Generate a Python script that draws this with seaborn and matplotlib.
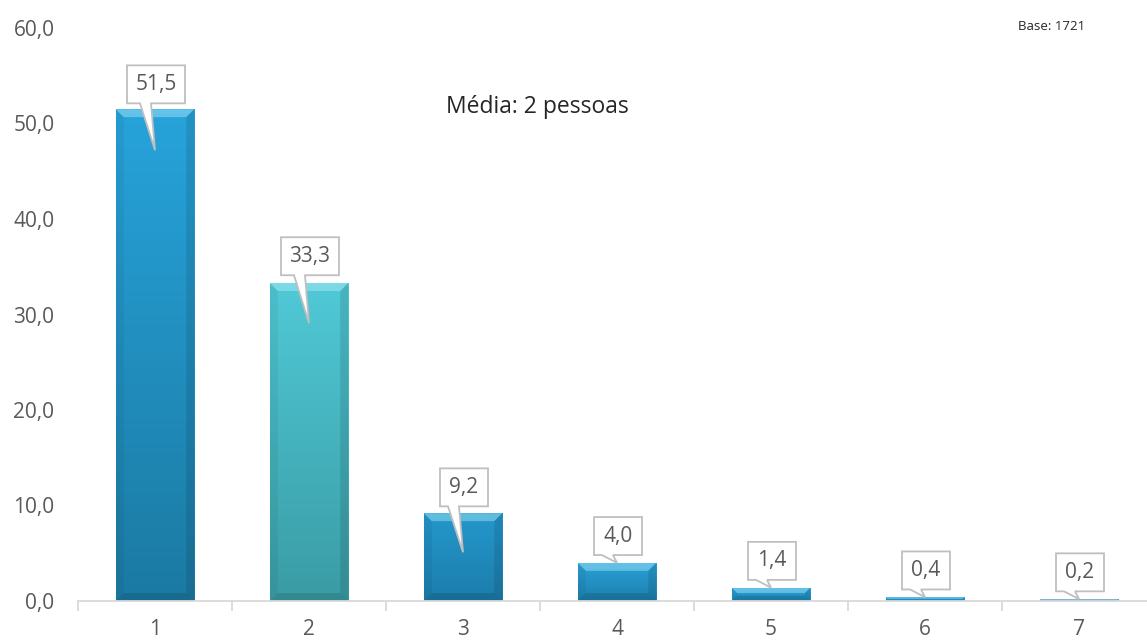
"""Distribuição do número de pessoas no agregado — barras com rótulos em balão"""

import numpy as np
import pandas as pd
import matplotlib
matplotlib.use('Agg')
import matplotlib.pyplot as plt
import matplotlib.colors as mcolors
from matplotlib.patches import Polygon
import seaborn as sns

categorias = ['1', '2', '3', '4', '5', '6', '7']
percentagens = [51.5, 33.3, 9.2, 4.0, 1.4, 0.4, 0.2]
rotulos = ['51,5', '33,3', '9,2', '4,0', '1,4', '0,4', '0,2']
cor_topo = ['#27a3da', '#50c9d6', '#2497cc', '#29a1d8', '#2aa4dc', '#2aa6de', '#5fa6cc']
cor_base = ['#1b7aa3', '#3a9ca5', '#1c7dab', '#1d80ae', '#1f86b6', '#2090c4', '#4a88ac']

sns.set_theme(style='white')
plt.rcParams['font.family'] = ['Open Sans', 'DejaVu Sans']
cinza = '#595959'

W, H = 1147, 642
AX_L, AX_B, AX_W, AX_H = 78, 41, 1078, 573
df = pd.DataFrame({'pessoas': categorias, 'pct': percentagens})

fig = plt.figure(figsize=(W / 100, H / 100), dpi=100)
ax = fig.add_axes([AX_L / W, AX_B / H, AX_W / W, AX_H / H])
sns.barplot(data=df, x='pessoas', y='pct', hue='pessoas', palette=cor_topo,
            legend=False, width=0.51, ax=ax, saturation=1)
ax.set_xlim(-0.5, 6.5)
ax.set_ylim(0, 60)

# conversão px -> dados (eixos fixos)
px_x = 7 / AX_W
px_y = 60 / AX_H

# gradiente vertical + bisel em cada barra
for patch, c1, c2 in zip(ax.patches, cor_topo, cor_base):
    x0, y0 = patch.get_x(), patch.get_y()
    w, h = patch.get_width(), patch.get_height()
    cmap = mcolors.LinearSegmentedColormap.from_list('g', [c2, c1])
    grad = np.linspace(0, 1, 100).reshape(-1, 1)
    z = patch.get_zorder()
    im = ax.imshow(grad, extent=[x0, x0 + w, y0, y0 + h], origin='lower',
                   cmap=cmap, aspect='auto', zorder=z + 0.1)
    im.set_clip_path(patch)
    patch.set_edgecolor('none')
    bv = min(8, h / px_y / 2.5)
    bx, by = bv * px_x, bv * px_y
    top = y0 + h
    ax.add_patch(Polygon([(x0, top), (x0 + w, top), (x0 + w - bx, top - by), (x0 + bx, top - by)],
                         closed=True, fc='#bff4ff', alpha=0.4, ec='none', zorder=z + 0.2))
    ax.add_patch(Polygon([(x0 + w, top), (x0 + w, y0), (x0 + w - bx, y0 + by), (x0 + w - bx, top - by)],
                         closed=True, fc='black', alpha=0.1, ec='none', zorder=z + 0.2))
    ax.add_patch(Polygon([(x0, top), (x0, y0), (x0 + bx, y0 + by), (x0 + bx, top - by)],
                         closed=True, fc='black', alpha=0.05, ec='none', zorder=z + 0.2))
    ax.add_patch(Polygon([(x0, y0), (x0 + w, y0), (x0 + w - bx, y0 + by), (x0 + bx, y0 + by)],
                         closed=True, fc='black', alpha=0.12, ec='none', zorder=z + 0.2))

ax.set_yticks(np.arange(0, 61, 10))
ax.set_yticklabels([f'{v:.1f}'.replace('.', ',') for v in np.arange(0, 61, 10)])
ax.set_xlabel('')
ax.set_ylabel('')
sns.despine(ax=ax, left=True)
ax.spines['bottom'].set_color('#d9d9d9')
ax.spines['bottom'].set_linewidth(1.3)
ax.set_xticks(np.arange(-0.5, 7, 1), minor=True)
ax.tick_params(axis='x', which='minor', length=7, width=1.3, color='#d9d9d9', direction='out', bottom=True)
ax.tick_params(axis='x', which='major', length=0, pad=13, labelsize=15, labelcolor=cinza)
ax.tick_params(axis='y', length=0, pad=17, labelsize=15, labelcolor=cinza)

# balões com os valores
caixa_y = [54.1, 36.1, 11.9, 6.8, 4.2, 3.2, 3.0]
ponta_y = [47.2, 29.1, 5.1, 4.0, 1.4, 0.4, 0.2]
hh = 19
for i, (txt, cy, ty) in enumerate(zip(rotulos, caixa_y, ponta_y)):
    hw = 29 if len(txt) == 4 else 24
    cx = i + 1 * px_x
    def p(dx, dy):
        return (cx + dx * px_x, cy + dy * px_y)
    verts = [p(-hw, hh), p(hw, hh), p(hw, -hh), p(-5, -hh), (i, ty), p(-16, -hh), p(-hw, -hh)]
    ax.add_patch(Polygon(verts, closed=True, fc='white', ec='#bfbfbf', lw=1.3, zorder=5))
    ax.text(cx, cy, txt, ha='center', va='center', fontsize=15, color=cinza, zorder=6)

ax.text(2.48, 51.7, 'Média: 2 pessoas', ha='center', va='center', fontsize=16.5, color='#262626')
fig.text(1052 / W, 1 - 27 / H, 'Base: 1721', ha='center', va='center', fontsize=9.5, color='#262626')

fig.savefig('out.png', dpi=100)
